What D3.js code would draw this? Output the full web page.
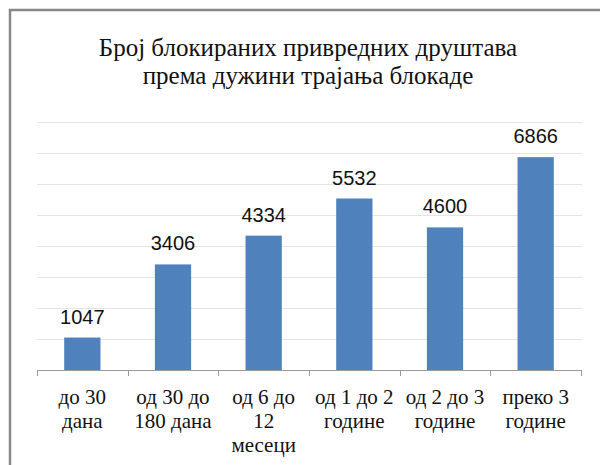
<!DOCTYPE html>
<html>
<head>
<meta charset="utf-8">
<script src="https://cdn.jsdelivr.net/npm/d3@7"></script>
<style>
  body { margin: 0; background: #fff; }
  svg { display: block; }
</style>
</head>
<body>
<svg id="chart" width="600" height="465"></svg>
<script>
'use strict'

// data
const categories = ['до 30 дана', 'од 30 до 180 дана', 'од 6 до 12 месеци', 'од 1 до 2 године', 'од 2 до 3 године', 'преко 3 године']
const categoryLines = [
  ['до 30', 'дана'],
  ['од 30 до', '180 дана'],
  ['од 6 до', '12', 'месеци'],
  ['од 1 до 2', 'године'],
  ['од 2 до 3', 'године'],
  ['преко 3', 'године']
]
const values = [1047, 3406, 4334, 5532, 4600, 6866]
const titleLines = ['Број блокираних привредних друштава', 'према дужини трајања блокаде']
const yMax = 8000
const yStep = 1000

const serif = '"Liberation Serif", "Times New Roman", serif'
const svg = d3.select('#chart')
const plot = { left: 37, right: 581, top: 122, bottom: 370 }

// outer frame, runs off the right and bottom of the picture
svg.append('rect')
  .attr('x', 10).attr('y', 10)
  .attr('width', 620).attr('height', 480)
  .attr('fill', 'none')
  .attr('stroke', '#888')
  .attr('stroke-width', 2.5)

svg.append('text')
  .attr('x', 308)
  .attr('y', 56)
  .attr('text-anchor', 'middle')
  .style('font-family', serif)
  .style('font-size', '25px')
  .attr('fill', '#111')
  .selectAll('tspan')
  .data(titleLines)
  .join('tspan')
  .attr('x', 308)
  .attr('dy', (d, i) => i === 0 ? 0 : 28)
  .text(d => d)

const x = d3.scaleBand()
  .domain(categories)
  .range([plot.left, plot.right])
  .paddingInner(0.6)
  .paddingOuter(0.3)

const y = d3.scaleLinear()
  .domain([0, yMax])
  .range([plot.bottom, plot.top])

// gridlines
svg.append('g')
  .selectAll('line')
  .data(d3.range(yStep, yMax + 1, yStep))
  .join('line')
  .attr('x1', plot.left)
  .attr('x2', plot.right + 1)
  .attr('y1', d => Math.round(y(d)) + 0.5)
  .attr('y2', d => Math.round(y(d)) + 0.5)
  .attr('stroke', '#e4e4e4')
  .attr('stroke-width', 1)

// bars
svg.append('g')
  .selectAll('rect')
  .data(values)
  .join('rect')
  .attr('x', (d, i) => x(categories[i]))
  .attr('y', d => y(d))
  .attr('width', x.bandwidth())
  .attr('height', d => y(0) - y(d))
  .attr('fill', '#4f81bd')

// value labels
svg.append('g')
  .selectAll('text')
  .data(values)
  .join('text')
  .attr('x', (d, i) => x(categories[i]) + x.bandwidth() / 2)
  .attr('y', d => y(d) - 14)
  .attr('text-anchor', 'middle')
  .style('font-family', '"Liberation Sans", Arial, sans-serif')
  .style('font-size', '20px')
  .attr('fill', '#111')
  .text(d => d)

// x axis: line plus tick marks at category boundaries
const bounds = d3.range(categories.length + 1).map(i => plot.left + i * x.step())
const axis = svg.append('g').attr('stroke', '#9a9a9a').attr('stroke-width', 1)
axis.append('line')
  .attr('x1', plot.left).attr('x2', plot.right + 1)
  .attr('y1', plot.bottom + 0.5).attr('y2', plot.bottom + 0.5)
axis.selectAll('line.tick')
  .data(bounds)
  .join('line')
  .attr('class', 'tick')
  .attr('x1', d => Math.round(d) + 0.5)
  .attr('x2', d => Math.round(d) + 0.5)
  .attr('y1', plot.bottom)
  .attr('y2', plot.bottom + 6)

// category labels
svg.append('g')
  .selectAll('text')
  .data(categoryLines)
  .join('text')
  .attr('text-anchor', 'middle')
  .attr('y', 404)
  .style('font-family', serif)
  .style('font-size', '21px')
  .attr('fill', '#111')
  .each(function (lines, i) {
    const cx = x(categories[i]) + x.bandwidth() / 2
    d3.select(this).selectAll('tspan')
      .data(lines)
      .join('tspan')
      .attr('x', cx)
      .attr('dy', (d, j) => j === 0 ? 0 : 24)
      .text(d => d)
  })
</script>
</body>
</html>
